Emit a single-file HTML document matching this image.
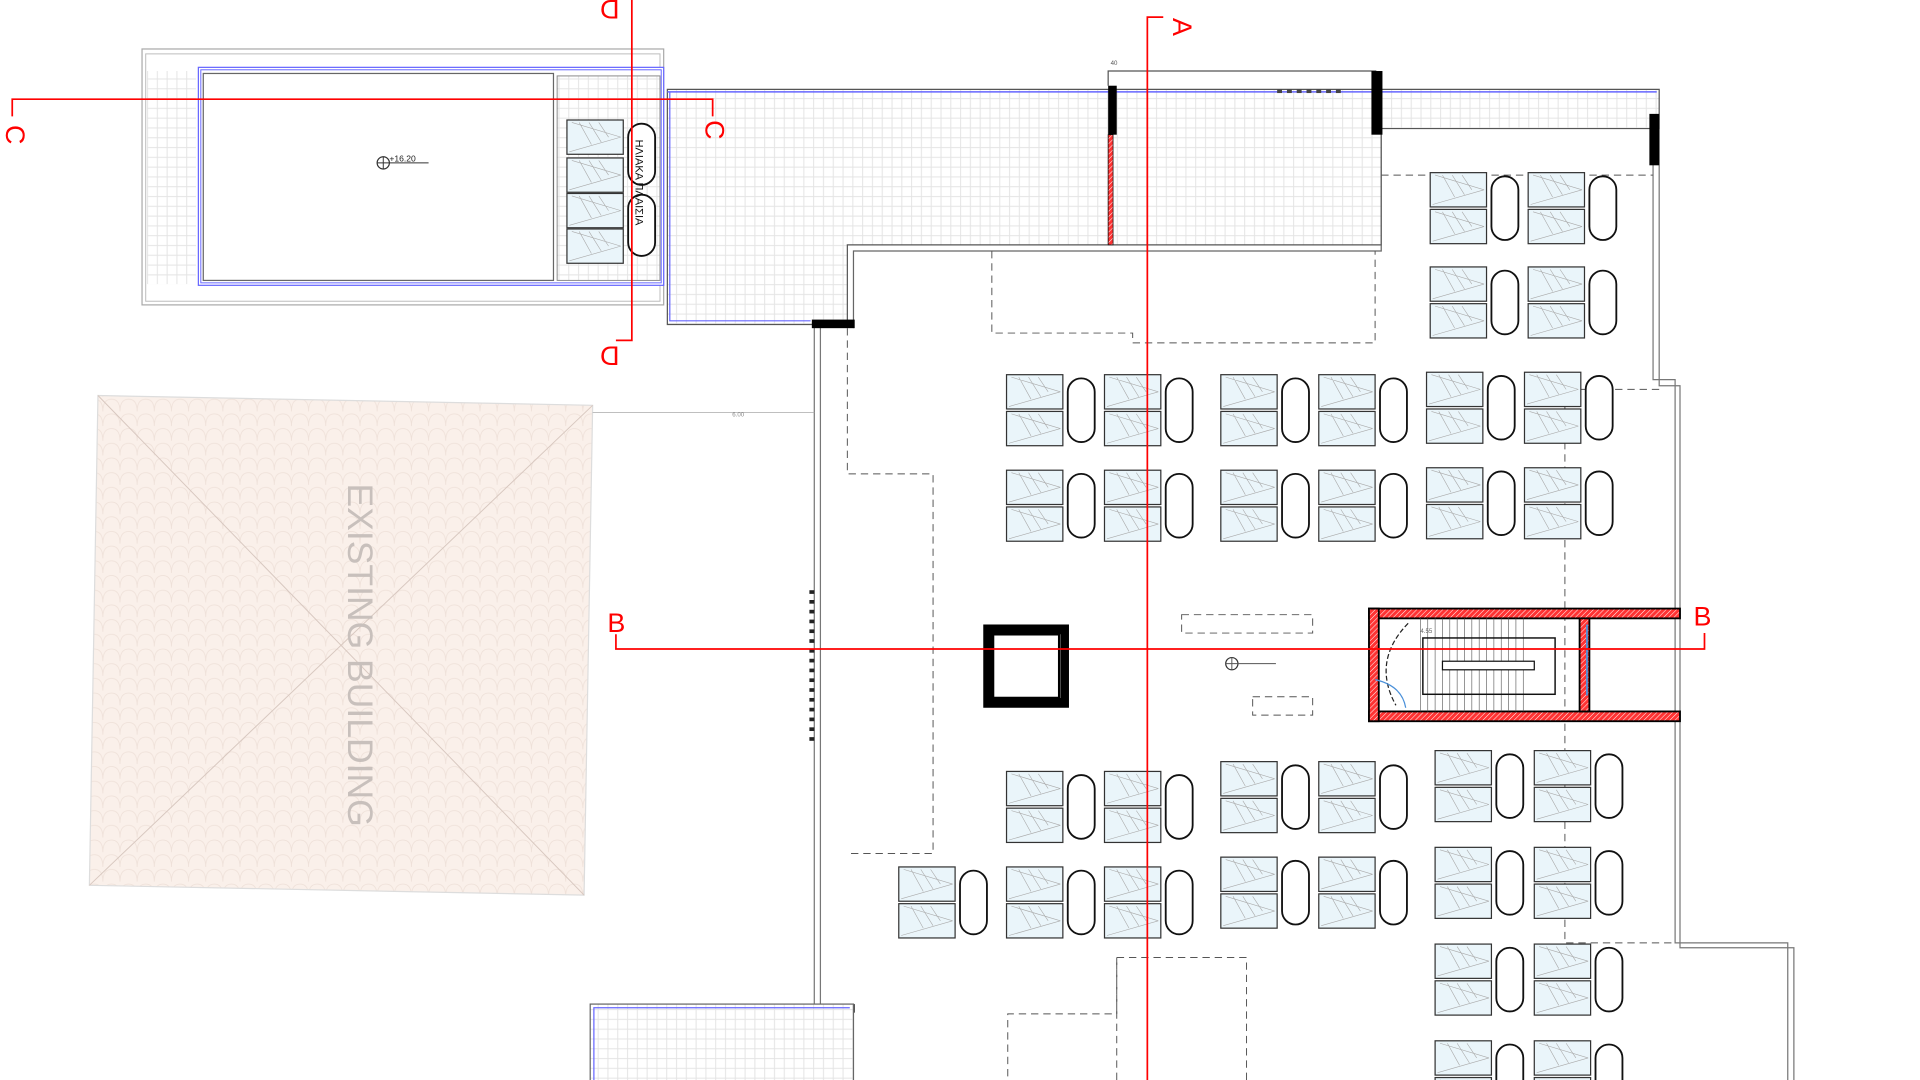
<!DOCTYPE html>
<html><head><meta charset="utf-8"><style>
html,body{margin:0;padding:0;background:#fff;overflow:hidden}
svg{display:block}
text{font-family:"Liberation Sans",sans-serif}
</style></head><body>
<svg width="1920" height="1080" viewBox="0 0 1568 882" xmlns="http://www.w3.org/2000/svg">
<defs>
<pattern id="tile" width="8" height="8" patternUnits="userSpaceOnUse">
<rect width="8" height="8" fill="#fff"/><path d="M0 .5H8M.5 0V8" stroke="#e4e4e4" stroke-width="0.8"/>
</pattern>
<pattern id="roof" width="14" height="12" patternUnits="userSpaceOnUse">
<rect width="14" height="12" fill="#faf0ea"/><path d="M0 12 Q0 2 7 2 Q14 2 14 12" fill="none" stroke="#eee0d8" stroke-width="0.6"/>
</pattern>
<pattern id="hatch" width="3" height="3" patternUnits="userSpaceOnUse" patternTransform="rotate(45)">
<rect width="3" height="3" fill="#f33"/><path d="M0 0V3" stroke="#fff" stroke-width="0.8"/>
</pattern>
<g id="pn"><rect x="0" y="0" width="46" height="28" fill="#eaf5fa" stroke="#333" stroke-width="1"/><path d="M2 26L44 14M4 2L44 14M10 2L20 20M18 2L28 18M26 2L34 14" stroke="#aaa" stroke-width="0.5" fill="none"/></g>
<g id="grp"><use href="#pn"/><use href="#pn" y="30"/><rect x="50" y="3" width="22" height="52" rx="11" fill="#fff" stroke="#111" stroke-width="1.5"/></g>
</defs>

<!-- top-left building -->
<rect x="116" y="40" width="426" height="209" fill="#fff" stroke="#aaa" stroke-width="1"/>
<rect x="119" y="44" width="420" height="202" fill="none" stroke="#bbb" stroke-width="0.8"/>
<rect x="120" y="58" width="40" height="174" fill="url(#tile)"/>
<rect x="162" y="55" width="380" height="178" fill="#fff" stroke="#66f" stroke-width="1"/>
<rect x="164" y="57" width="376" height="174" fill="none" stroke="#66f" stroke-width="0.8"/>
<rect x="166" y="60" width="286" height="169" fill="#fff" stroke="#666" stroke-width="1"/>
<rect x="455" y="62" width="84" height="167" fill="url(#tile)" stroke="#888" stroke-width="0.8"/>
<use href="#pn" x="463" y="98"/><use href="#pn" x="463" y="129"/><use href="#pn" x="463" y="158"/><use href="#pn" x="463" y="187"/>
<rect x="513" y="101" width="22" height="50" rx="11" fill="#fff" stroke="#111" stroke-width="1.5"/>
<rect x="513" y="159" width="22" height="50" rx="11" fill="#fff" stroke="#111" stroke-width="1.5"/>
<text transform="translate(519,114) rotate(90)" font-size="9" fill="#111">ΗΛΙΑΚΑ ΠΛΑΙΣΙΑ</text>
<circle cx="313" cy="133" r="5" fill="#fff" stroke="#333"/><path d="M313 128V138M308 133H350" stroke="#333" stroke-width="0.8"/>
<text x="318" y="132" font-size="7" fill="#222">+16.20</text>

<!-- main terrace -->
<path d="M545 73H1355V105H1128V200H692V265H545Z" fill="url(#tile)" stroke="#555" stroke-width="1"/>
<path d="M545 75H1353" stroke="#66f" stroke-width="1.2" fill="none"/>
<path d="M547 75V262H662" stroke="#66f" stroke-width="1" fill="none"/>
<path d="M905 70V58H1124" fill="none" stroke="#555" stroke-width="1"/>
<path d="M1128 110V205H697V268" fill="none" stroke="#666" stroke-width="1"/>
<text x="907" y="53" font-size="5" fill="#555">40</text>
<g fill="#444"><rect x="1043" y="73" width="4" height="3"/><rect x="1051" y="73" width="4" height="3"/><rect x="1059" y="73" width="4" height="3"/><rect x="1067" y="73" width="4" height="3"/><rect x="1075" y="73" width="4" height="3"/><rect x="1083" y="73" width="4" height="3"/><rect x="1091" y="73" width="4" height="3"/></g>
<rect x="905" y="110" width="4" height="90" fill="url(#hatch)" stroke="#111" stroke-width="0.6"/>

<!-- building outline walls -->
<path d="M665 265V882M670 265V882" stroke="#777" stroke-width="1"/>
<path d="M1350 105V310H1368V770H1460V882M1355 105V315H1372V774H1465V882" fill="none" stroke="#777" stroke-width="1"/>
<g fill="#000">
<rect x="663" y="261" width="35" height="7"/><rect x="905" y="70" width="7" height="40"/><rect x="1120" y="58" width="9" height="52"/><rect x="1347" y="93" width="8" height="42"/><rect x="663" y="820" width="35" height="7"/>
</g>
<g fill="#222"><rect x="661" y="482" width="4" height="3"/><rect x="661" y="490" width="4" height="3"/><rect x="661" y="498" width="4" height="3"/><rect x="661" y="506" width="4" height="3"/><rect x="661" y="514" width="4" height="3"/><rect x="661" y="522" width="4" height="3"/><rect x="661" y="530" width="4" height="3"/><rect x="661" y="538" width="4" height="3"/><rect x="661" y="546" width="4" height="3"/><rect x="661" y="554" width="4" height="3"/><rect x="661" y="562" width="4" height="3"/><rect x="661" y="570" width="4" height="3"/><rect x="661" y="578" width="4" height="3"/><rect x="661" y="586" width="4" height="3"/><rect x="661" y="594" width="4" height="3"/><rect x="661" y="602" width="4" height="3"/></g>

<!-- bottom-left piece -->
<rect x="482" y="820" width="215" height="70" fill="url(#tile)" stroke="#666"/>
<path d="M485 882V823H694" fill="none" stroke="#66f" stroke-width="1"/>

<!-- existing building -->
<polygon points="80,323 484,331 477,731 73,723" fill="url(#roof)" stroke="#ddd" stroke-width="1"/>
<path d="M80 323L477 731M484 331L73 723" stroke="#d8c8c0" stroke-width="0.8"/>
<text transform="translate(284,535) rotate(90)" font-size="29" fill="#c8c0bc" text-anchor="middle">EXISTING BUILDING</text>
<path d="M484 337H665" stroke="#aaa" stroke-width="0.6"/><text x="598" y="340" font-size="5" fill="#888">6.00</text>

<!-- dashed outlines -->
<g fill="none" stroke="#555" stroke-width="0.8" stroke-dasharray="6 4">
<path d="M810 205V272H925V280H1123V205"/>
<path d="M692 268V387H762V697H692"/>
<path d="M1128 143H1350"/>
<path d="M1355 318H1278V770H1368"/>
<path d="M912 882V782H1018V882"/>
<path d="M912 782V828H823V882"/>
<rect x="965" y="502" width="107" height="15"/>
<rect x="1023" y="569" width="49" height="15"/>
</g>

<!-- solar groups -->
<use href="#grp" x="1168" y="141"/><use href="#grp" x="1248" y="141"/>
<use href="#grp" x="1168" y="218"/><use href="#grp" x="1248" y="218"/>
<use href="#grp" x="822" y="306"/><use href="#grp" x="902" y="306"/><use href="#grp" x="997" y="306"/><use href="#grp" x="1077" y="306"/><use href="#grp" x="1165" y="304"/><use href="#grp" x="1245" y="304"/>
<use href="#grp" x="822" y="384"/><use href="#grp" x="902" y="384"/><use href="#grp" x="997" y="384"/><use href="#grp" x="1077" y="384"/><use href="#grp" x="1165" y="382"/><use href="#grp" x="1245" y="382"/>
<use href="#grp" x="822" y="630"/><use href="#grp" x="902" y="630"/><use href="#grp" x="997" y="622"/><use href="#grp" x="1077" y="622"/><use href="#grp" x="1172" y="613"/><use href="#grp" x="1253" y="613"/>
<use href="#grp" x="734" y="708"/><use href="#grp" x="822" y="708"/><use href="#grp" x="902" y="708"/><use href="#grp" x="997" y="700"/><use href="#grp" x="1077" y="700"/><use href="#grp" x="1172" y="692"/><use href="#grp" x="1253" y="692"/>
<use href="#grp" x="1172" y="771"/><use href="#grp" x="1253" y="771"/>
<use href="#grp" x="1172" y="850"/><use href="#grp" x="1253" y="850"/>

<!-- column -->
<rect x="807.5" y="514.5" width="61" height="59" fill="#fff" stroke="#000" stroke-width="9"/>
<path d="M866 518V570" stroke="#666" stroke-width="0.6"/>

<!-- stair -->
<rect x="1118" y="497" width="254" height="8" fill="url(#hatch)" stroke="#000" stroke-width="1.5"/>
<rect x="1118" y="581" width="254" height="8" fill="url(#hatch)" stroke="#000" stroke-width="1.5"/>
<rect x="1118" y="497" width="8" height="92" fill="url(#hatch)" stroke="#000" stroke-width="1.5"/>
<rect x="1290" y="505" width="8" height="76" fill="url(#hatch)" stroke="#000" stroke-width="1.5"/>
<g stroke="#555" stroke-width="0.5">
<path d="M1160 505V581M1166 505V581M1172 505V581M1178 505V581M1184 505V581M1190 505V581M1196 505V581M1202 505V581M1208 505V581M1214 505V581M1220 505V581M1226 505V581M1232 505V581M1238 505V581M1244 505V581"/>
</g>
<rect x="1162" y="521" width="108" height="46" fill="none" stroke="#111" stroke-width="1.2"/>
<rect x="1178" y="540" width="75" height="7" fill="#fff" stroke="#111" stroke-width="1"/>
<path d="M1150 509Q1120 540 1140 576" fill="none" stroke="#222" stroke-width="1" stroke-dasharray="4 2"/>
<path d="M1123 555Q1145 560 1148 578" fill="none" stroke="#4a90d9" stroke-width="1"/>
<path d="M1296 510V568" stroke="#4a90d9" stroke-width="1.5"/>
<text x="1160" y="517" font-size="5" fill="#666">4.55</text>
<circle cx="1006" cy="542" r="5" fill="#fff" stroke="#333"/><path d="M1006 537V547M1001 542H1042" stroke="#555" stroke-width="0.8"/>

<!-- section lines -->
<g stroke="#f00" stroke-width="1.4" fill="none">
<path d="M516 0V278H503"/>
<path d="M10 95V81H582V95"/>
<path d="M950 14H937V882"/>
<path d="M503 518V530H1392V517"/>
</g>
<g fill="#f00" font-size="22">
<text transform="translate(498,0) rotate(180)" text-anchor="middle">D</text>
<text transform="translate(498,275) rotate(180)" text-anchor="middle" dy="-8">D</text>
<text transform="translate(3,110) rotate(90)" text-anchor="middle" dy="-2">C</text>
<text transform="translate(574,106) rotate(90)" text-anchor="middle" dy="-2">C</text>
<text transform="translate(956,22) rotate(90)" text-anchor="middle" dy="-2">A</text>
<text x="496" y="516">B</text>
<text x="1383" y="511">B</text>
</g>
</svg>
</body></html>
